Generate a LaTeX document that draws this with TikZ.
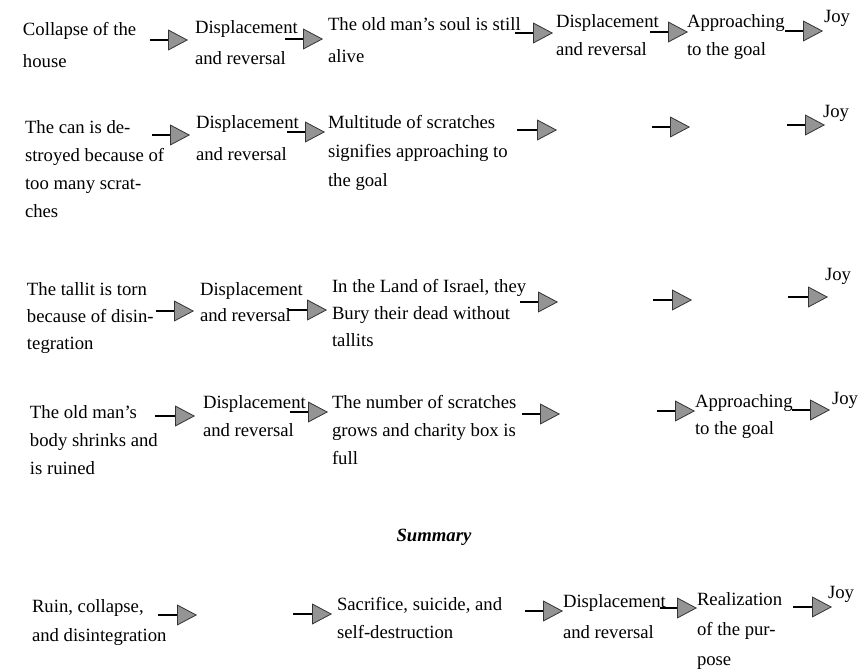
\documentclass[tikz,border=0pt]{standalone}
\usepackage{fontspec}
\setmainfont{Liberation Serif}
\usetikzlibrary{arrows.meta}
\newcommand\setfs[1]{\fontsize{18.7}{#1}\selectfont}
\newcommand\mytab[1]{\begin{tabular}[t]{@{}l@{}}#1\end{tabular}}
\tikzset{
  txt/.style={anchor=base west, inner sep=0pt, outer sep=0pt, font=\setfs{#1}},
  txt/.default=28,
  arr/.style={line width=1.3pt, black,
    -{Triangle[length=20pt,width=21pt,fill=black!42,color=black!80,line width=0.8pt]}},
}
\begin{document}
\begin{tikzpicture}[x=1pt,y=-1pt]
\useasboundingbox (0,0) rectangle (863,672);

% Row 1
\node[txt=32] (r1a) at (23,35)  {\mytab{Collapse of the\\house}};
\node[txt=31] (r1b) at (195,33) {\mytab{Displacement\\and reversal}};
\node[txt=32] (r1c) at (328,30) {\mytab{The old man's soul is still\\alive}};
\node[txt=28] (r1d) at (556,27) {\mytab{Displacement\\and reversal}};
\node[txt=28] (r1e) at (687,27) {\mytab{Approaching\\to the goal}};
\node[txt] (r1j) at (824,22) {Joy};

% Row 2
\node[txt=28] (r2a) at (25,133)  {\mytab{The can is de-\\stroyed because of\\too many scrat-\\ches}};
\node[txt=32] (r2b) at (196,128) {\mytab{Displacement\\and reversal}};
\node[txt=29] (r2c) at (328,128) {\mytab{Multitude of scratches\\signifies approaching to\\the goal}};
\node[txt] (r2j) at (823,117) {Joy};

% Row 3
\node[txt=27] (r3a) at (27,295)  {\mytab{The tallit is torn\\because of disin-\\tegration}};
\node[txt=26] (r3b) at (200,295) {\mytab{Displacement\\and reversal}};
\node[txt=27] (r3c) at (332,292) {\mytab{In the Land of Israel, they\\Bury their dead without\\tallits}};
\node[txt] (r3j) at (825,280) {Joy};

% Row 4
\node[txt=28] (r4a) at (30,418)  {\mytab{The old man's\\body shrinks and\\is ruined}};
\node[txt=28] (r4b) at (203,408) {\mytab{Displacement\\and reversal}};
\node[txt=28] (r4c) at (332,408) {\mytab{The number of scratches\\grows and charity box is\\full}};
\node[txt=27] (r4e) at (695,407) {\mytab{Approaching\\to the goal}};
\node[txt] (r4j) at (832,404) {Joy};

% Summary
\node[anchor=base, inner sep=0pt, font=\setfs{28}] (sum) at (434,541) {\textbf{\textit{Summary}}};

% Row 5
\node[txt=29] (r5a) at (32,612)  {\mytab{Ruin, collapse,\\and disintegration}};
\node[txt=28] (r5c) at (337,610) {\mytab{Sacrifice, suicide, and\\self-destruction}};
\node[txt=31] (r5d) at (563,607) {\mytab{Displacement\\and reversal}};
\node[txt=30] (r5e) at (697,605) {\mytab{Realization\\of the pur-\\pose}};
\node[txt] (r5j) at (828,598) {Joy};

% Arrows
\foreach \n/\xa/\xb/\y in {
  11/150/188/40, 12/285/323/39, 13/515/553/33, 14/650/688/32, 15/785/823/31,
  21/152/190/135, 22/287/325/132, 23/517/557/130, 24/652/690/127, 25/787/825/125,
  31/156/194/311, 32/288/327/310, 33/520/558/302, 34/653/692/300, 35/788/828/297,
  41/155/195/416, 42/290/328/412, 43/522/560/414, 44/657/695/411, 45/792/830/410,
  51/158/197/615, 52/293/332/614, 53/525/563/611, 54/660/697/608, 55/793/832/607}{
  \coordinate (s\n) at (\xa,\y);
  \coordinate (e\n) at (\xb,\y);
  \draw[arr] (s\n) -- (e\n);
}
\end{tikzpicture}
\end{document}
